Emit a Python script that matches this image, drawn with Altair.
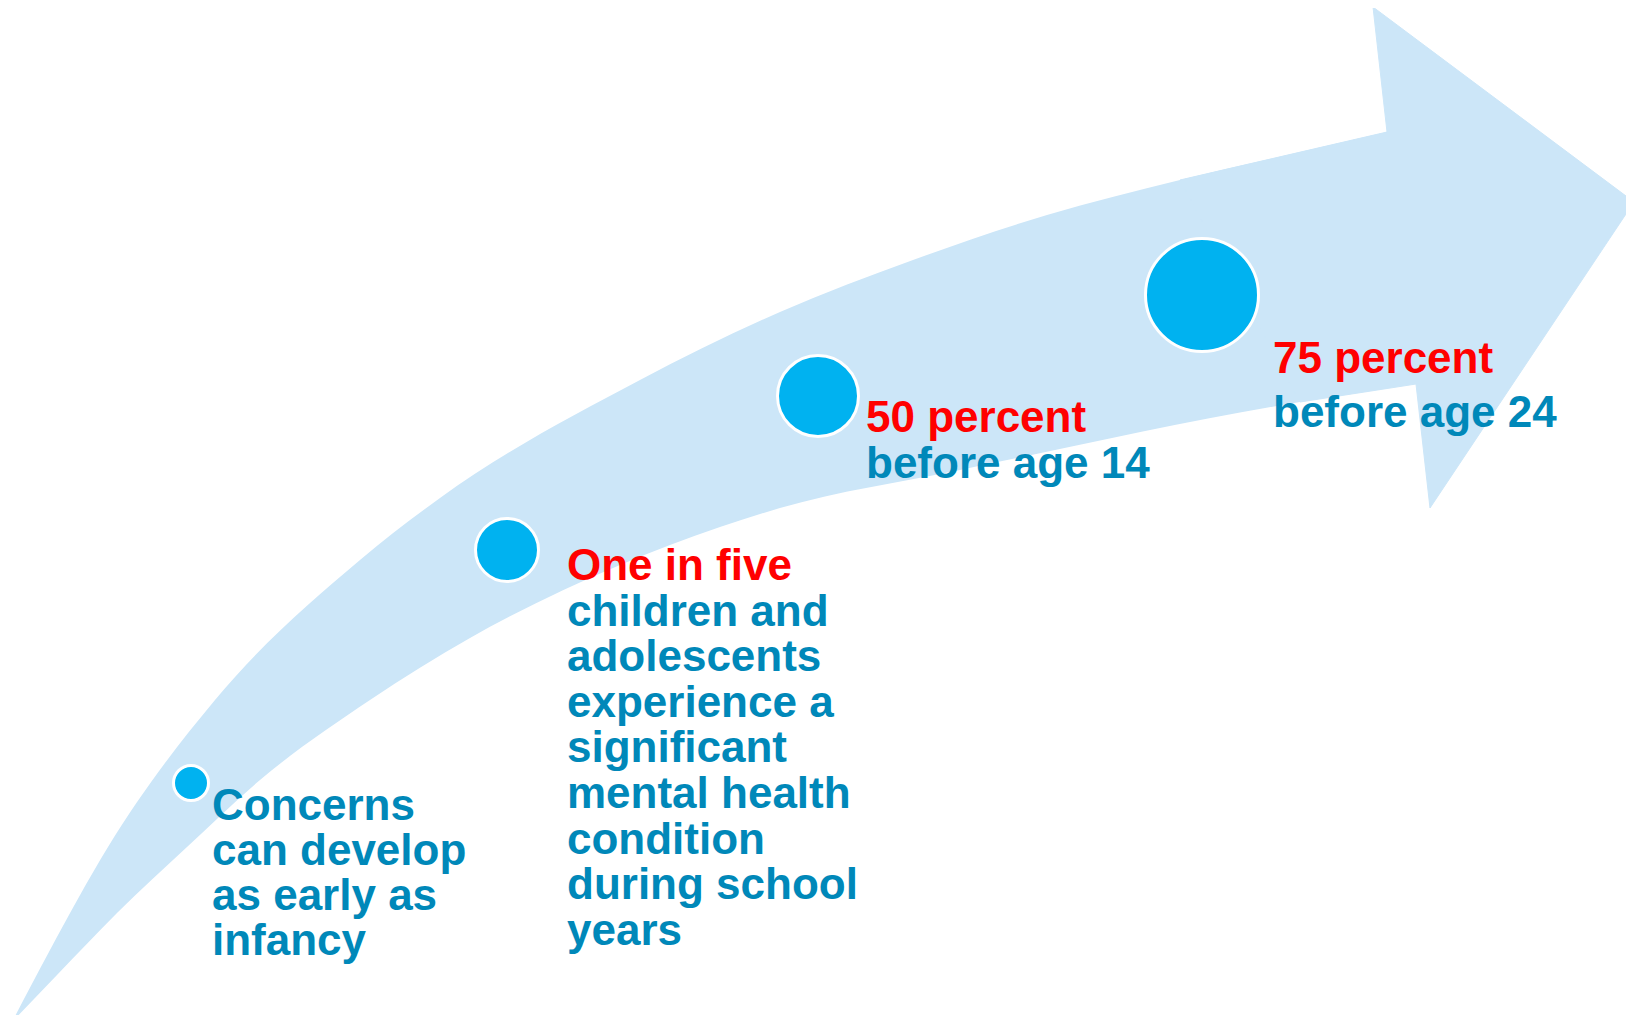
import altair as alt
import pandas as pd

# ---- canvas (page pixels; the page has an 8px margin) ----
W, H = 1618, 1007
X_DOMAIN = [8, 8 + W]
Y_DOMAIN = [8, 8 + H]

# ---- colours ----
ARROW_COLOR = "#CCE6F8"
DOT_COLOR = "#00B2F0"
RED = "#FF0000"
TEAL = "#0088B9"

# ---- arrow outline (page pixel coordinates) ----
# upper (outer) edge of the curved shaft, tail -> shaft end
outer_x = [12, 50, 108, 215, 360, 440, 640, 780, 913, 1047, 1180, 1300, 1387]
outer_y = [1022, 950, 847, 700, 560, 498, 380, 312, 260, 215, 180, 152, 132]
# lower (inner) edge of the curved shaft, tail -> notch under the head
inner_x = [12, 57, 117, 187, 260, 370, 470, 620, 720, 780, 960, 1300, 1416]
inner_y = [1022, 975, 913, 847, 780, 700, 638, 565, 527, 508, 470, 402, 384]
# arrow head: along the shaft top, top barb, tip, bottom barb, notch, shaft bottom
head_x = [1180, 1387, 1373, 1634, 1430, 1416, 1300]
head_y = [180, 132, 7, 202, 508, 384, 402]

# ---- milestone dots ----
dot_x = [191, 507, 818, 1202]
dot_y = [783, 550, 396, 295]
dot_r = [19, 33, 42, 58]

# ---- text blocks: (left x, first baseline, line step, [(text, colour), ...]) ----
block_x = [212, 567, 866, 1273]
block_y = [820, 580, 432, 373]
block_step = [45, 45.6, 46, 54]
block_lines = [
    [("Concerns", TEAL), ("can develop", TEAL), ("as early as", TEAL), ("infancy", TEAL)],
    [("One in five", RED), ("children and", TEAL), ("adolescents", TEAL),
     ("experience a", TEAL), ("significant", TEAL), ("mental health", TEAL),
     ("condition", TEAL), ("during school", TEAL), ("years", TEAL)],
    [("50 percent", RED), ("before age 14", TEAL)],
    [("75 percent", RED), ("before age 24", TEAL)],
]

# ---- build tables ----
BOTTOM = Y_DOMAIN[1]
outer_df = pd.DataFrame({"x": outer_x, "y": outer_y, "base": BOTTOM})
inner_df = pd.DataFrame({"x": inner_x, "y": inner_y, "base": BOTTOM})
head_df = pd.DataFrame({"x": head_x, "y": head_y, "order": list(range(len(head_x)))})

STROKE = 3
dot_df = pd.DataFrame({
    "x": dot_x,
    "y": dot_y,
    # Vega circle symbols: diameter = sqrt(size)
    "size": [(2 * r - STROKE) ** 2 for r in dot_r],
})

rows = []
for bx, by, step, lines in zip(block_x, block_y, block_step, block_lines):
    for i, (t, c) in enumerate(lines):
        rows.append({"x": bx, "y": by + i * step, "text": t, "color": c})
text_df = pd.DataFrame(rows)

xs = alt.Scale(domain=X_DOMAIN, nice=False, zero=False)
ys = alt.Scale(domain=Y_DOMAIN, nice=False, zero=False, reverse=True)
X = alt.X("x:Q", scale=xs, axis=None)
Y = alt.Y("y:Q", scale=ys, axis=None)

# blue below the outer edge, then white below the inner edge -> curved band
shaft_outer = alt.Chart(outer_df).mark_area(
    fill=ARROW_COLOR, interpolate="monotone", clip=True, opacity=1
).encode(x=X, y=Y, y2=alt.Y2("base:Q"))

shaft_inner = alt.Chart(inner_df).mark_area(
    fill="white", interpolate="monotone", clip=True, opacity=1
).encode(x=X, y=Y, y2=alt.Y2("base:Q"))

head = alt.Chart(head_df).mark_line(
    fill=ARROW_COLOR, stroke=ARROW_COLOR, strokeWidth=1,
    interpolate="linear-closed", clip=True,
).encode(x=X, y=Y, order=alt.Order("order:Q"))

dots = alt.Chart(dot_df).mark_point(
    shape="circle", filled=True, fill=DOT_COLOR, stroke="white",
    strokeWidth=STROKE, opacity=1, clip=True,
).encode(x=X, y=Y, size=alt.Size("size:Q", scale=None, legend=None))

texts = alt.Chart(text_df).mark_text(
    align="left", baseline="alphabetic", font="Liberation Sans",
    fontWeight="bold", fontSize=44,
).encode(
    x=X, y=Y,
    text="text:N",
    color=alt.Color("color:N", scale=None, legend=None),
)

chart = alt.layer(shaft_outer, shaft_inner, head, dots, texts).properties(
    width=W, height=H, padding=0,
    autosize=alt.AutoSizeParams(type="none"),
    background="white",
).configure_view(strokeWidth=0)

chart.save("out.html", embed_options={"renderer": "svg", "actions": False})
